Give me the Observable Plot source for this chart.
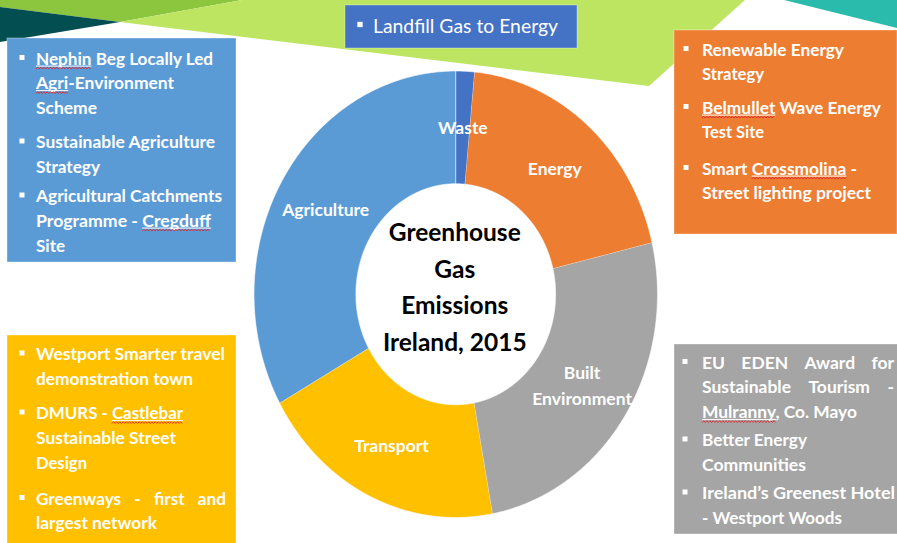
<!DOCTYPE html>
<html><head><meta charset="utf-8">
<script src="https://cdn.jsdelivr.net/npm/d3@7"></script>
<script src="https://cdn.jsdelivr.net/npm/@observablehq/plot@0.6"></script>
<style>
html,body{margin:0;padding:0;background:#fff;}
#wrap{position:relative;width:897px;height:543px;overflow:hidden;}
#wrap svg{position:absolute;left:0;top:0;}
</style></head><body><div id="wrap"></div>
<script>
// ---------- data ----------
const categories = ["Waste", "Energy", "Built Environment", "Transport", "Agriculture"];
const shares = [1.5, 19.8, 25.8, 19.8, 33.1];
const sliceLabels = ["Waste", "Energy", "Built\nEnvironment", "Transport", "Agriculture"];
const sliceColors = ["#4472c4", "#ed7d31", "#a5a5a5", "#ffc000", "#5b9bd5"];
const centerTitle = ["Greenhouse", "Gas", "Emissions", "Ireland, 2015"];

const wasteItems = [["Landfill Gas to Energy"]];
const agricultureItems = [
  ["Nephin Beg Locally Led", "Agri-Environment", "Scheme"],
  ["Sustainable Agriculture", "Strategy"],
  ["Agricultural Catchments", "Programme - Cregduff", "Site"]
];
const energyItems = [
  ["Renewable Energy", "Strategy"],
  ["Belmullet Wave Energy", "Test Site"],
  ["Smart Crossmolina -", "Street lighting project"]
];
const transportItems = [
  ["Westport Smarter travel", "demonstration town"],
  ["DMURS - Castlebar", "Sustainable Street", "Design"],
  ["Greenways - first and", "largest network"]
];
const builtItems = [
  ["EU EDEN Award for", "Sustainable Tourism -", "Mulranny, Co. Mayo"],
  ["Better Energy", "Communities"],
  ["Ireland\u2019s Greenest Hotel", "- Westport Woods"]
];
const flaggedWords = ["Nephin", "Agri", "Cregduff", "Belmullet", "Crossmolina", "Castlebar", "Mulranny"];

// ---------- layout (not data) ----------
const FONT = "Lato, 'Open Sans', sans-serif";
const innerRatio = 0.495;
const decor = [
  {fill: "#8cc63f", pts: [[0,0],[242,0],[120,22],[0,7]]},
  {fill: "#034e50", pts: [[0,7],[120,22],[0,42]]},
  {fill: "#bde561", pts: [[120,22],[242,0],[745,0],[649,86]]},
  {fill: "#2bbbad", pts: [[784,0],[897,0],[897,28]]}
];
const boxLayouts = [
  {items: wasteItems, rect: [345,5,577,48], fill: "#4472c4", tx: 373, bx: 360, size: 20, weight: 400, bsz: 5.3,
   base: [33], ends: [558], just: []},
  {items: agricultureItems, rect: [7,38,236,262], fill: "#5b9bd5", tx: 36, bx: 22, size: 17, weight: 700, bsz: 5,
   base: [64.5,89,113.5,148,172.5,202,226.5,251.5], ends: [213,174,97,215,100,222,211,65], just: []},
  {items: energyItems, rect: [674,30,897,234], fill: "#ed7d31", tx: 702, bx: 686, size: 17, weight: 700, bsz: 5,
   base: [55.5,80,113.5,138,174.5,198.5], ends: [844,764,881,764,857,871], just: []},
  {items: transportItems, rect: [7,335,236,545], fill: "#ffc000", tx: 36, bx: 22, size: 17, weight: 700, bsz: 5,
   base: [360,385,419,444,469,504.5,529], ends: [225,193,183,176,87,226,157], just: [5]},
  {items: builtItems, rect: [674,344,899,534], fill: "#a5a5a5", tx: 702, bx: 685, size: 17, weight: 700, bsz: 5,
   base: [368.5,393,418,446,471,499,524], ends: [894,894,857,807,806,895,842], just: [0,1]}
];

const wrap = document.getElementById("wrap");

// ---------- donut (Plot) ----------
const rows = categories.map((c, i) => ({name: c, share: shares[i], label: sliceLabels[i], color: sliceColors[i]}));
const arcs = d3.pie().sort(null).value(d => d.share)(rows);
const ringPoints = [];
arcs.forEach(a => {
  const n = Math.max(2, Math.ceil((a.endAngle - a.startAngle) / (Math.PI / 360)));
  const outer = d3.range(n + 1).map(j => a.startAngle + (a.endAngle - a.startAngle) * j / n);
  outer.forEach(t => ringPoints.push({name: a.data.name, color: a.data.color, x: Math.sin(t), y: Math.cos(t)}));
  outer.slice().reverse().forEach(t => ringPoints.push({name: a.data.name, color: a.data.color, x: innerRatio * Math.sin(t), y: innerRatio * Math.cos(t)}));
});
const midR = (1 + innerRatio) / 2;
const mid = a => (a.startAngle + a.endAngle) / 2;

const chart = Plot.plot({
  width: 897, height: 543,
  marginLeft: 253.5, marginRight: 240, marginTop: 70.5, marginBottom: 26,
  x: {domain: [-1, 1], axis: null},
  y: {domain: [-1, 1], axis: null},
  color: {type: "identity"},
  style: {background: "transparent", fontFamily: FONT, overflow: "visible"},
  marks: [
    Plot.line(ringPoints, {x: "x", y: "y", z: "name", fill: "color", stroke: "white", strokeWidth: 0.6, curve: "linear"}),
    Plot.text(arcs, {x: a => midR * Math.sin(mid(a)), y: a => midR * Math.cos(mid(a)), text: a => a.data.label,
      fill: "white", fontSize: 17.5, fontWeight: "bold", lineHeight: 1.5, dy: -2}),
    Plot.text([centerTitle.join("\n")], {frameAnchor: "middle", text: d => d, fill: "black", fontSize: 24.5,
      fontWeight: "bold", lineHeight: 1.49, dy: -10, dx: -1})
  ]
});
wrap.appendChild(chart);

// ---------- decorations and text boxes ----------
const overlay = d3.select(wrap).append("svg").attr("width", 897).attr("height", 543);
decor.forEach(p => overlay.append("polygon").attr("points", p.pts.map(q => q.join(",")).join(" ")).attr("fill", p.fill));

function squiggle(g, x, w, b) {
  g.append("line").attr("x1", x).attr("x2", x + w).attr("y1", b + 1.6).attr("y2", b + 1.6)
    .attr("stroke", "white").attr("stroke-width", 1);
  const pts = [];
  for (let xx = x, j = 0; xx <= x + w; xx += 1.6, j++) pts.push([xx, b + 3.6 + (j % 2 ? -0.9 : 0.9)]);
  g.append("path").attr("d", d3.line()(pts)).attr("fill", "none").attr("stroke", "#e0242a").attr("stroke-width", 0.9);
}

boxLayouts.forEach(L => {
  const [x0, y0, x1, y1] = L.rect;
  overlay.append("rect").attr("x", x0).attr("y", y0).attr("width", x1 - x0).attr("height", y1 - y0)
    .attr("fill", L.fill).attr("stroke", "rgba(255,255,255,0.35)").attr("stroke-width", 1);
  const lines = [];
  L.items.forEach(item => item.forEach((t, i) => lines.push({text: t, bullet: i === 0})));
  const g = overlay.append("g").attr("font-family", FONT).attr("font-size", L.size)
    .attr("font-weight", L.weight).attr("fill", "white");
  const measure = s => { const t = g.append("text").text(s); const w = t.node().getComputedTextLength(); t.remove(); return w; };
  const ratios = lines.map((ln, i) => L.just.includes(i) ? null : (L.ends[i] - L.tx) / measure(ln.text));
  const k = d3.mean(ratios.filter(r => r != null));
  lines.forEach((ln, i) => {
    const b = L.base[i];
    if (ln.bullet) g.append("rect").attr("x", L.bx - L.bsz / 2).attr("y", b - 0.56 * L.size).attr("width", L.bsz).attr("height", L.bsz);
    if (L.just.includes(i)) {
      const words = ln.text.split(" ");
      const ws = words.map(w => measure(w) * k);
      const gap = (L.ends[i] - L.tx - d3.sum(ws)) / (words.length - 1);
      let x = L.tx;
      words.forEach((w, j) => {
        g.append("text").attr("x", x).attr("y", b).attr("textLength", ws[j]).attr("lengthAdjust", "spacingAndGlyphs").text(w);
        x += ws[j] + gap;
      });
    } else {
      const r = ratios[i];
      g.append("text").attr("x", L.tx).attr("y", b).attr("textLength", L.ends[i] - L.tx)
        .attr("lengthAdjust", "spacingAndGlyphs").text(ln.text);
      flaggedWords.forEach(fw => {
        const idx = ln.text.indexOf(fw);
        const next = ln.text.charAt(idx + fw.length);
        if (idx >= 0 && !/[A-Za-z]/.test(next)) {
          const end = measure(ln.text.slice(0, idx + fw.length)) * r;
          const ww = measure(fw) * r;
          squiggle(g, L.tx + end - ww, ww, b);
        }
      });
    }
  });
});
</script></body></html>
